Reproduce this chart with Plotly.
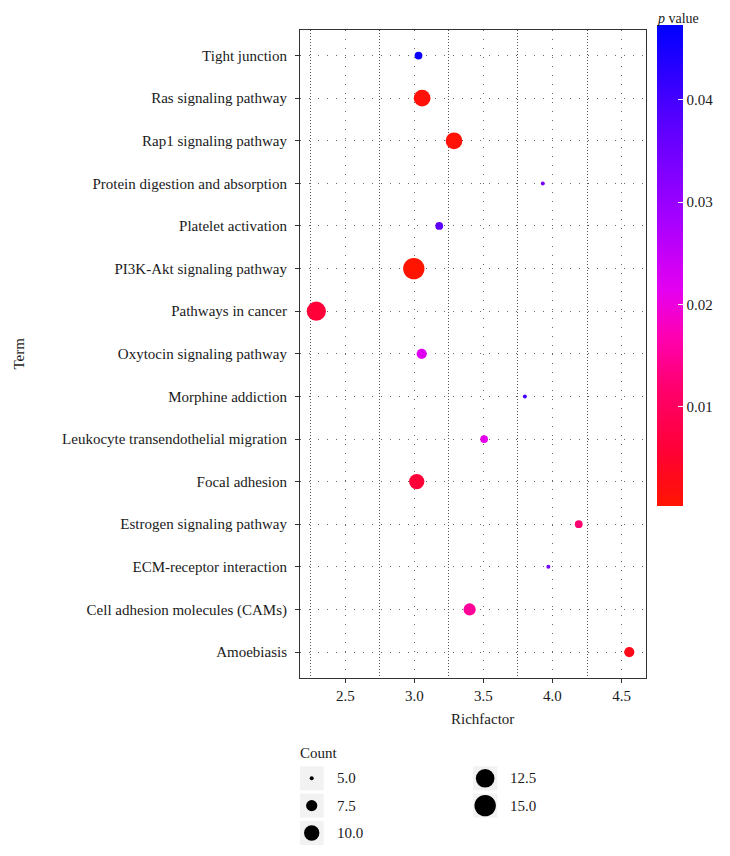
import math
import plotly.graph_objects as go

# ---------------- data ----------------
terms = ["Tight junction", "Ras signaling pathway", "Rap1 signaling pathway",
         "Protein digestion and absorption", "Platelet activation",
         "PI3K-Akt signaling pathway", "Pathways in cancer",
         "Oxytocin signaling pathway", "Morphine addiction",
         "Leukocyte transendothelial migration", "Focal adhesion",
         "Estrogen signaling pathway", "ECM-receptor interaction",
         "Cell adhesion molecules (CAMs)", "Amoebiasis"]
rich_factor = [3.03, 3.056, 3.287, 3.93, 3.18, 2.996, 2.29, 3.053, 3.80,
               3.505, 3.017, 4.19, 3.97, 3.40, 4.556]
counts = [6, 11, 11, 5, 6, 15, 13, 7, 5, 6, 10, 6, 5, 8, 7]
p_values = [0.046, 0.0012, 0.0010, 0.034, 0.037, 0.0003, 0.006, 0.022, 0.040,
            0.021, 0.006, 0.012, 0.034, 0.015, 0.003]

x_ticks = [2.5, 3.0, 3.5, 4.0, 4.5]
cbar_ticks = [0.01, 0.02, 0.03, 0.04]
legend_counts = [5.0, 7.5, 10.0, 12.5, 15.0]

# ---------------- styling ----------------
FONT = "Liberation Serif"
FS = 15
TXT = "#1a1a1a"
OFF = 8                       # page body margin
W, H = 730 - OFF, 856 - OFF
P_LEFT, P_RIGHT, P_TOP, P_BOTTOM = 300 - OFF, 645.7 - OFF, 30 - OFF, 677.6 - OFF
ML, MR, MT, MB = P_LEFT, W - P_RIGHT, P_TOP, 2
PW, PH = W - ML - MR, H - MT - MB


def py(ypix):
    """reference-image y pixel -> paper fraction"""
    return (H - MB - (ypix - OFF)) / PH


def px(xpix):
    """reference-image x pixel -> paper fraction"""
    return ((xpix - OFF) - ML) / PW


def diam(c):
    return math.sqrt(16 + (c - 5) * 44)


colorscale = [
    [0.0, "#FF1400"],
    [0.12, "#FF0038"],
    [0.25, "#FF0070"],
    [0.35, "#FF00B0"],
    [0.45, "#E400F0"],
    [0.60, "#A400FF"],
    [0.80, "#5800FF"],
    [1.0, "#0000FF"],
]
cmin, cmax = 0.0003, 0.0473
CB_TOP, CB_BOTTOM = 25.0, 505.7

fig = go.Figure()

fig.add_trace(go.Scatter(
    x=rich_factor, y=terms, mode="markers",
    marker=dict(
        size=[diam(c) for c in counts],
        color=p_values, colorscale=colorscale, cmin=cmin, cmax=cmax,
        line=dict(width=0), opacity=1,
        colorbar=dict(
            thickness=26, lenmode="pixels", len=CB_BOTTOM - CB_TOP,
            x=px(656.7), xanchor="left", xpad=0,
            y=py(CB_TOP), yanchor="top", ypad=0,
            outlinewidth=0, borderwidth=0,
            tickvals=cbar_ticks, ticktext=[f"{v:.2f}" for v in cbar_ticks],
            ticks="inside", ticklen=5, tickwidth=1.2, tickcolor="white",
            tickfont=dict(family=FONT, size=FS, color=TXT),
        ),
        showscale=True,
    ),
    showlegend=False, hoverinfo="x+y",
))

# ---- size legend (drawn on its own axes; units = pixels from legend box) ----
LEG_TOP = 740
col_x = [11.7, 185.0]
row_y = [38.3, 65.6, 93.0]
leg_x, leg_y = [], []
for i, c in enumerate(legend_counts):
    col = 0 if i < 3 else 1
    row = i if i < 3 else i - 3
    leg_x.append(col_x[col])
    leg_y.append(row_y[row])

fig.add_trace(go.Scatter(
    x=leg_x, y=leg_y, mode="markers", xaxis="x2", yaxis="y2",
    marker=dict(symbol="square", size=24, color="#F2F2F2", opacity=1,
                line=dict(width=0)),
    showlegend=False, hoverinfo="skip",
))
fig.add_trace(go.Scatter(
    x=leg_x, y=leg_y, mode="markers", xaxis="x2", yaxis="y2",
    marker=dict(size=[diam(c) for c in legend_counts], color="#000000",
                opacity=1, line=dict(width=0)),
    showlegend=False, hoverinfo="skip",
))

annotations = []
for xx, yy, c in zip(leg_x, leg_y, legend_counts):
    annotations.append(dict(
        x=xx + 23.0, y=yy, xref="x2", yref="y2", text=f"{c:.1f}",
        showarrow=False, xanchor="left", yanchor="middle",
        font=dict(family=FONT, size=FS, color=TXT)))
annotations.append(dict(
    x=px(298), y=py(752.5), xref="paper", yref="paper", text="Count",
    showarrow=False, xanchor="left", yanchor="middle",
    font=dict(family=FONT, size=FS, color=TXT)))
annotations.append(dict(
    x=px(655), y=py(OFF + 0.5), xref="paper", yref="paper",
    text="<i>p</i> value", showarrow=False, xanchor="left", yanchor="top",
    font=dict(family=FONT, size=14, color=TXT)))
annotations.append(dict(
    x=px(19), y=py(353.8), xref="paper", yref="paper", text="Term",
    textangle=-90, showarrow=False, xanchor="center", yanchor="middle",
    font=dict(family=FONT, size=FS, color=TXT)))
annotations.append(dict(
    x=px(482.8), y=py(719), xref="paper", yref="paper", text="Richfactor",
    showarrow=False, xanchor="center", yanchor="middle",
    font=dict(family=FONT, size=FS, color=TXT)))

fig.update_layout(
    width=W, height=H,
    margin=dict(l=ML, r=MR, t=MT, b=MB, pad=0, autoexpand=False),
    paper_bgcolor="white", plot_bgcolor="white",
    font=dict(family=FONT, size=FS, color=TXT),
    xaxis=dict(
        range=[2.172, 4.677], tickvals=x_ticks,
        ticktext=[f"{v:.1f}" for v in x_ticks],
        showgrid=True, gridcolor="#666666", griddash="1px,8px", gridwidth=1,
        minor=dict(showgrid=True, tick0=2.25, dtick=0.5, gridcolor="#555555",
                   griddash="1px,2px", gridwidth=1),
        showline=True, mirror=True, linecolor="#333333", linewidth=1,
        ticks="outside", ticklen=4, tickcolor="#333333",
        zeroline=False, anchor="y",
        tickfont=dict(family=FONT, size=FS, color=TXT),
    ),
    yaxis=dict(
        domain=[py(677.6), 1.0],
        type="category", categoryorder="array", categoryarray=terms[::-1],
        range=[-0.6, len(terms) - 0.4],
        showgrid=True, gridcolor="#666666", griddash="1px,8px", gridwidth=1,
        showline=True, mirror=True, linecolor="#333333", linewidth=1,
        ticks="outside", ticklen=4, tickcolor="#333333",
        ticklabelstandoff=5, zeroline=False, anchor="x",
        tickfont=dict(family=FONT, size=FS, color=TXT),
    ),
    xaxis2=dict(domain=[0, 1], range=[0, PW], visible=False, anchor="y2",
                fixedrange=True),
    yaxis2=dict(domain=[0, py(LEG_TOP)], range=[H - MB - (LEG_TOP - OFF), 0],
                visible=False, anchor="x2", fixedrange=True),
    annotations=annotations,
)

fig.write_html("out.html")
